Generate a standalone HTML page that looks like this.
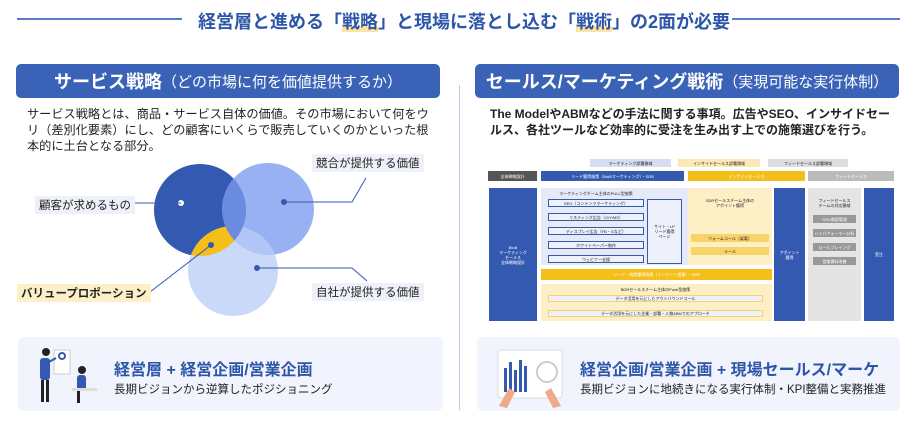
<!DOCTYPE html>
<html><head><meta charset="utf-8"><style>
*{margin:0;padding:0;box-sizing:border-box}
body{width:917px;height:427px;background:#fff;position:relative;overflow:hidden;font-family:"Liberation Sans","Noto Sans CJK JP",sans-serif;color:#222}
.a{position:absolute}
.hd{background:#3a63b8;border-radius:5px;color:#fff;font-weight:bold;font-size:18px;display:flex;align-items:center;justify-content:center;white-space:nowrap}
.hd span{font-weight:normal;font-size:15px}
.t{font-size:12.2px;line-height:16px}
.lbl{background:#eef1fa;font-size:11.5px;padding:1px 4px;white-space:nowrap}
.card{background:#f1f4fd;border-radius:6px}
.ct{font-size:16px;font-weight:bold;color:#2d55a8;white-space:nowrap}
.cs{font-size:11.5px;white-space:nowrap}
.d{position:absolute;font-size:4px;display:flex;align-items:center;justify-content:center;text-align:center;line-height:5px;overflow:hidden;white-space:nowrap}
</style></head><body>
<div class="a" style="left:17px;top:18px;width:165px;height:2px;background:#5a7bc4"></div>
<div class="a" style="left:732px;top:18px;width:168px;height:2px;background:#5a7bc4"></div>
<div class="a" style="left:198px;top:8px;font-size:18px;font-weight:bold;color:#2d55a8;white-space:nowrap">経営層と進める「<span style="background:linear-gradient(transparent 70%,#fde3a0 70%)">戦略</span>」と現場に落とし込む「<span style="background:linear-gradient(transparent 70%,#fde3a0 70%)">戦術</span>」の2面が必要</div>
<div class="a" style="left:459px;top:85px;width:1px;height:325px;background:#b9c8e6"></div>

<div class="a hd" style="left:16px;top:64px;width:424px;height:34px">サービス戦略<span>（どの市場に何を価値提供するか）</span></div>
<div class="a t" style="left:27px;top:106px;width:410px">サービス戦略とは、商品・サービス自体の価値。その市場において何をウリ（差別化要素）にし、どの顧客にいくらで販売していくのかといった根本的に土台となる部分。</div>

<svg class="a" style="left:0;top:0" width="460" height="330">
<circle cx="200" cy="210" r="46" fill="#3459b0"/>
<circle cx="268" cy="209" r="46" fill="#7e9ef0" fill-opacity="0.8"/>
<circle cx="233" cy="271" r="45" fill="#b9ccf7" fill-opacity="0.75"/>
<clipPath id="c1"><circle cx="200" cy="210" r="46"/></clipPath>
<g clip-path="url(#c1)"><circle cx="233" cy="271" r="45" fill="#f5bf1a"/><circle cx="268" cy="209" r="46" fill="#6a8be0"/></g>
<circle cx="181" cy="203" r="3" fill="#fff"/>
<circle cx="284" cy="202" r="3" fill="#3459b0"/>
<circle cx="257" cy="268" r="3" fill="#3459b0"/>
<circle cx="211" cy="245" r="3" fill="#3459b0"/>
<g stroke="#3459b0" stroke-width="1" fill="none">
<path d="M130 203H181"/><path d="M284 202H352L366 178"/><path d="M257 268H352L367 281"/><path d="M211 245L150 292"/>
</g>
</svg>
<div class="a lbl" style="left:35px;top:196px">顧客が求めるもの</div>
<div class="a lbl" style="left:312px;top:154px">競合が提供する価値</div>
<div class="a lbl" style="left:312px;top:283px">自社が提供する価値</div>
<div class="a lbl" style="left:17px;top:284px;background:#fdf0c8;font-weight:bold">バリュープロポーション</div>

<div class="a hd" style="left:475px;top:64px;width:424px;height:34px">セールス/マーケティング戦術<span>（実現可能な実行体制）</span></div>
<div class="a t" style="left:490px;top:106px;width:410px;font-weight:bold;font-size:12px">The ModelやABMなどの手法に関する事項。広告やSEO、インサイドセールス、各社ツールなど効率的に受注を生み出す上での施策選びを行う。</div>

<div class="d" style="left:590px;top:159px;width:81px;height:8px;background:#d6dcf2">マーケティング部署領域</div>
<div class="d" style="left:678px;top:159px;width:82px;height:8px;background:#fde9b5">インサイドセールス部署領域</div>
<div class="d" style="left:768px;top:159px;width:80px;height:8px;background:#ddd">フィードセールス部署領域</div>
<div class="d" style="left:488px;top:171px;width:49px;height:10px;background:#555;color:#fff">全体戦略設計</div>
<div class="d" style="left:541px;top:171px;width:143px;height:10px;background:#3459b0;color:#fff">リード獲得施策（BtoBマーケティング）・SDR</div>
<div class="d" style="left:688px;top:171px;width:117px;height:10px;background:#f5bf1a;color:#fff">インサイドセールス</div>
<div class="d" style="left:808px;top:171px;width:86px;height:10px;background:#bbb;color:#fff">フィードセールス</div>
<div class="d" style="left:489px;top:188px;width:48px;height:133px;background:#3459b0;color:#fff">BtoB<br>マーケティング<br>セールス<br>全体戦略設計</div>
<div class="a" style="left:541px;top:188px;width:231px;height:77px;background:#e6eaf7"></div>
<div class="d" style="left:548px;top:190px;width:96px;height:6px">マーケティングチーム主体のPULL型施策</div>
<div class="d" style="left:548px;top:199px;width:96px;height:8px;border:1px solid #3459b0;background:#eef1fb">SEO（コンテンツマーケティング）</div>
<div class="d" style="left:548px;top:213px;width:96px;height:8px;border:1px solid #3459b0;background:#eef1fb">リスティング広告（G/Y/MS）</div>
<div class="d" style="left:548px;top:227px;width:96px;height:8px;border:1px solid #3459b0;background:#eef1fb">ディスプレイ広告（FB・Gなど）</div>
<div class="d" style="left:548px;top:241px;width:96px;height:8px;border:1px solid #3459b0;background:#eef1fb">ホワイトペーパー制作</div>
<div class="d" style="left:548px;top:255px;width:96px;height:8px;border:1px solid #3459b0;background:#eef1fb">ウェビナー支援</div>
<div class="d" style="left:647px;top:199px;width:35px;height:65px;border:1px solid #3459b0;background:#eef1fb">サイト・LP<br>リード獲得<br>ページ</div>
<div class="a" style="left:688px;top:188px;width:84px;height:77px;background:#fdefc6"></div>
<div class="d" style="left:690px;top:196px;width:80px;height:14px">SDRセールスチーム主体の<br>アポイント獲得</div>
<div class="d" style="left:691px;top:234px;width:78px;height:8px;background:#f8d36a">ウォームコール（架電）</div>
<div class="d" style="left:691px;top:247px;width:78px;height:8px;background:#f8d36a">メール</div>
<div class="d" style="left:774px;top:188px;width:31px;height:133px;background:#3459b0;color:#fff">アポイント<br>獲得</div>
<div class="a" style="left:808px;top:188px;width:53px;height:133px;background:#e4e4e4"></div>
<div class="d" style="left:810px;top:196px;width:49px;height:14px">フィードセールス<br>チームの対応領域</div>
<div class="d" style="left:813px;top:215px;width:43px;height:8px;background:#999;color:#fff">SFA/商談管理</div>
<div class="d" style="left:813px;top:229px;width:43px;height:8px;background:#999;color:#fff">ハイパフォーマー分析</div>
<div class="d" style="left:813px;top:243px;width:43px;height:8px;background:#999;color:#fff">ロールプレイング</div>
<div class="d" style="left:813px;top:257px;width:43px;height:8px;background:#999;color:#fff">営業資料改善</div>
<div class="d" style="left:864px;top:188px;width:30px;height:133px;background:#3459b0;color:#fff">受注</div>
<div class="d" style="left:541px;top:269px;width:231px;height:11px;background:#f5bf1a;color:#fff">リード・商談獲得施策（インテント営業）・SDR</div>
<div class="a" style="left:541px;top:284px;width:231px;height:37px;background:#fdefc6"></div>
<div class="d" style="left:548px;top:286px;width:215px;height:6px">BDRセールスチーム主体のPush型施策</div>
<div class="d" style="left:548px;top:295px;width:215px;height:7px;background:#eef1fb;border:1px solid #f8d36a">データ活用を元にしたアウトバウンドコール</div>
<div class="d" style="left:548px;top:310px;width:215px;height:7px;background:#eef1fb;border:1px solid #f8d36a">データ活用を元にした企業・部署・人物ABMでのアプローチ</div>

<div class="a card" style="left:18px;top:337px;width:425px;height:74px"></div>
<svg class="a" style="left:32px;top:348px" width="70" height="60">
<rect x="22" y="2" width="16" height="24" fill="#fff" stroke="#ccc"/><circle cx="30" cy="8" r="3" fill="none" stroke="#3459b0" stroke-width="2"/>
<circle cx="14" cy="4" r="4" fill="#222"/><rect x="8" y="10" width="10" height="22" rx="3" fill="#3459b0"/><rect x="9" y="32" width="3" height="22" fill="#222"/><rect x="14" y="32" width="3" height="22" fill="#222"/><path d="M17 14L24 10" stroke="#3459b0" stroke-width="2"/>
<circle cx="50" cy="22" r="4" fill="#222"/><rect x="45" y="27" width="9" height="16" rx="3" fill="#3459b0"/><rect x="40" y="40" width="25" height="3" fill="#ddd"/><rect x="45" y="43" width="3" height="12" fill="#222"/>
</svg>
<div class="a ct" style="left:114px;top:356px">経営層 + 経営企画/営業企画</div>
<div class="a cs" style="left:114px;top:381px">長期ビジョンから逆算したポジショニング</div>

<div class="a card" style="left:477px;top:337px;width:423px;height:74px"></div>
<svg class="a" style="left:495px;top:348px" width="70" height="60">
<rect x="3" y="2" width="64" height="48" rx="3" fill="#fff" stroke="#ddd"/>
<g fill="#3459b0"><rect x="9" y="20" width="3" height="24"/><rect x="14" y="14" width="3" height="30"/><rect x="19" y="22" width="3" height="22"/><rect x="24" y="12" width="3" height="32"/><rect x="29" y="18" width="3" height="26"/></g>
<circle cx="52" cy="24" r="10" fill="none" stroke="#ccc" stroke-width="2"/>
<path d="M4 58L14 40L20 44L12 60Z" fill="#f2a98a"/><path d="M66 58L56 40L50 44L58 60Z" fill="#f2a98a"/>
</svg>
<div class="a ct" style="left:580px;top:356px">経営企画/営業企画 + 現場セールス/マーケ</div>
<div class="a cs" style="left:580px;top:381px">長期ビジョンに地続きになる実行体制・KPI整備と実務推進</div>
</body></html>
